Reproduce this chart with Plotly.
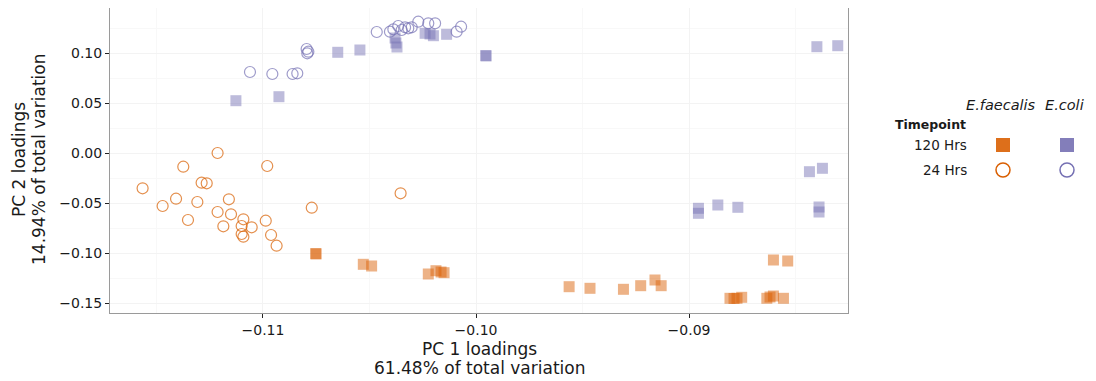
import plotly.graph_objects as go

# E.faecalis, 24 Hrs (hollow circles)
ef24_x = [-0.11565, -0.11374, -0.11213, -0.10980, -0.11288, -0.11264, -0.11471, -0.11408,
          -0.11308, -0.11160, -0.11352, -0.11213, -0.11150, -0.11186, -0.11092, -0.11100,
          -0.11053, -0.10987, -0.11100, -0.11092, -0.10962, -0.10936, -0.10771, -0.10354]
ef24_y = [-0.0353, -0.0137, 0.0000, -0.0130, -0.0297, -0.0303, -0.0530, -0.0457,
          -0.0490, -0.0463, -0.0670, -0.0590, -0.0613, -0.0733, -0.0663, -0.0730,
          -0.0743, -0.0677, -0.0810, -0.0837, -0.0820, -0.0927, -0.0547, -0.0403]

# E.faecalis, 120 Hrs (squares)
ef120_x = [-0.10751, -0.10752, -0.10529, -0.10490, -0.10224, -0.10188, -0.10164, -0.10150,
           -0.09563, -0.09465, -0.09308, -0.09227, -0.09160, -0.09131,
           -0.08808, -0.08789, -0.08775, -0.08753, -0.08635, -0.08620, -0.08604, -0.08557,
           -0.08604, -0.08537]
ef120_y = [-0.1010, -0.1005, -0.1113, -0.1130, -0.1210, -0.1177, -0.1190, -0.1197,
           -0.1337, -0.1353, -0.1363, -0.1327, -0.1270, -0.1327,
           -0.1453, -0.1455, -0.1453, -0.1443, -0.1453, -0.1440, -0.1430, -0.1453,
           -0.1070, -0.1080]

# E.coli, 24 Hrs (hollow circles)
ec24_x = [-0.11061, -0.10956, -0.10861, -0.10839, -0.10795, -0.10787, -0.10792,
          -0.10466, -0.10404, -0.10388, -0.10365, -0.10349, -0.10333, -0.10318, -0.10302,
          -0.10271, -0.10224, -0.10192, -0.10091, -0.10070]
ec24_y = [0.0810, 0.0790, 0.0790, 0.0797, 0.1040, 0.1013, 0.0997,
          0.1210, 0.1213, 0.1237, 0.1270, 0.1230, 0.1257, 0.1247, 0.1257,
          0.1313, 0.1297, 0.1297, 0.1213, 0.1263]

# E.coli, 120 Hrs (squares)
ec120_x = [-0.11127, -0.10925, -0.10649, -0.10545, -0.10380, -0.10376, -0.10371,
           -0.10239, -0.10216, -0.10200, -0.10138, -0.09953, -0.09954,
           -0.08956, -0.08956, -0.08865, -0.08771,
           -0.08400, -0.08302, -0.08435, -0.08374, -0.08390, -0.08390]
ec120_y = [0.0523, 0.0563, 0.1007, 0.1030, 0.1150, 0.1100, 0.1060,
           0.1197, 0.1190, 0.1173, 0.1187, 0.0970, 0.0975,
           -0.0553, -0.0603, -0.0520, -0.0543,
           0.1063, 0.1073, -0.0187, -0.0153, -0.0540, -0.0590]

x_ticks = [-0.11, -0.10, -0.09]
x_tick_text = ["\u22120.11", "\u22120.10", "\u22120.09"]
y_ticks = [0.10, 0.05, 0.00, -0.05, -0.10, -0.15]
y_tick_text = ["0.10", "0.05", "0.00", "\u22120.05", "\u22120.10", "\u22120.15"]

ORANGE = "#D95F02"
PURPLE = "#7570B3"
FONT = "DejaVu Sans"
TXT = "#1a1a1a"

fig = go.Figure()

def squares(x, y, color):
    fig.add_trace(go.Scatter(
        x=x, y=y, mode="markers", showlegend=False, hoverinfo="skip",
        marker=dict(symbol="square", size=11, color=color, opacity=0.48,
                    line=dict(width=0))))

def circles(x, y, color):
    fig.add_trace(go.Scatter(
        x=x, y=y, mode="markers", showlegend=False, hoverinfo="skip",
        marker=dict(symbol="circle-open", size=11, color=color, opacity=0.7,
                    line=dict(width=1.2, color=color))))

squares(ef120_x, ef120_y, ORANGE)
squares(ec120_x, ec120_y, PURPLE)
circles(ef24_x, ef24_y, ORANGE)
circles(ec24_x, ec24_y, PURPLE)

axis_common = dict(
    showline=True, linecolor="#9a9a9a", linewidth=1, mirror=True,
    ticks="outside", ticklen=4, tickcolor="#222222", tickwidth=1.2,
    tickfont=dict(family=FONT, size=14, color=TXT),
    showgrid=True, gridcolor="#f3f3f3", gridwidth=1, zeroline=False,
)

fig.update_xaxes(
    range=[-0.11718, -0.08254], tickvals=x_ticks, ticktext=x_tick_text,
    minor=dict(dtick=0.005, showgrid=True, gridcolor="#f8f8f8", ticks=""),
    **axis_common)
fig.update_yaxes(
    range=[-0.160, 0.145], tickvals=y_ticks, ticktext=y_tick_text,
    minor=dict(dtick=0.025, showgrid=True, gridcolor="#f8f8f8", ticks=""),
    **axis_common)

# screen-pixel -> paper coords (plot area on screen: x 110..848, y 8..313)
def px(xp):
    return (xp - 110) / (848 - 110)

def py(yp):
    return (313 - yp) / (313 - 8)

def txt(x, y, s, anchor="center", size=14, angle=0):
    fig.add_annotation(x=px(x), y=py(y), xref="paper", yref="paper", text=s,
                       showarrow=False, xanchor=anchor, yanchor="middle",
                       textangle=angle,
                       font=dict(family=FONT, size=size, color=TXT))

# Axis titles
txt(479, 349, "PC 1 loadings", size=17)
txt(479, 368, "61.48% of total variation", size=17)
txt(19, 160, "PC 2 loadings", size=17, angle=-90)
txt(39, 160, "14.94% of total variation", size=17, angle=-90)

# Custom legend (grid layout like the original)
txt(1001, 105, "<i>E.faecalis</i>", size=14.5)
txt(1064, 105, "<i>E.coli</i>", size=14.5)
txt(968, 124, "<b>Timepoint</b>", anchor="right", size=12.5)
txt(969, 145, "120 Hrs", anchor="right", size=13.5)
txt(969, 170, "24 Hrs", anchor="right", size=13.5)

half = 7
for cx, col in [(1003, ORANGE), (1067, PURPLE)]:
    fig.add_shape(type="rect", xref="paper", yref="paper",
                  x0=px(cx - half), x1=px(cx + half), y0=py(145 + half), y1=py(145 - half),
                  fillcolor=col, line=dict(width=0), opacity=0.9)
    fig.add_shape(type="circle", xref="paper", yref="paper",
                  x0=px(cx - 7), x1=px(cx + 7), y0=py(170 + 7), y1=py(170 - 7),
                  fillcolor="rgba(0,0,0,0)", line=dict(color=col, width=1.5))

# page body has an 8px margin, so figure is sized/offset to land the plot area
fig.update_layout(
    width=1088, height=373,
    margin=dict(l=102, r=248, t=0, b=68),
    plot_bgcolor="white", paper_bgcolor="white",
    showlegend=False,
)

fig.write_html("out.html")
